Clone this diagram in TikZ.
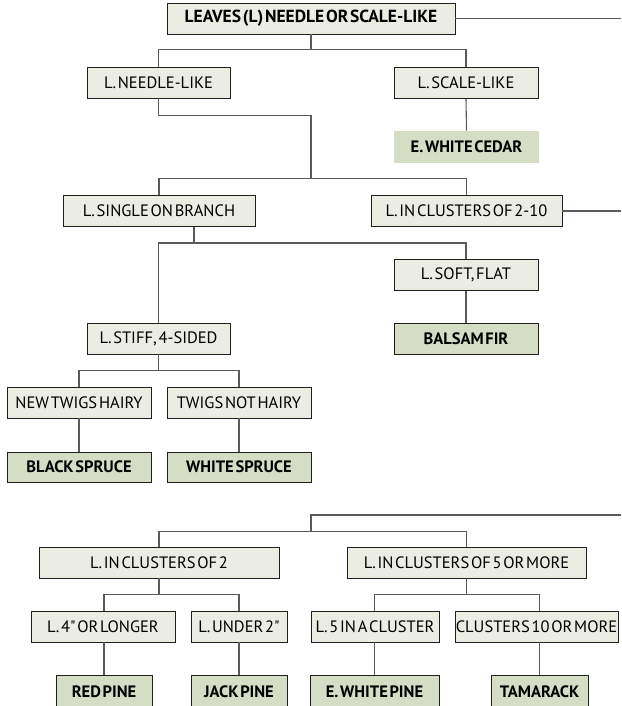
\documentclass[tikz,border=0pt]{standalone}
\usepackage{fontspec}
\setmainfont[WordSpace=0.4]{PT Sans}
\definecolor{lightbox}{HTML}{EBEDE3}
\definecolor{greenbox}{HTML}{D5DEC4}
\definecolor{connc}{HTML}{5A5A5A}
\definecolor{boxline}{HTML}{1E1E1E}
\begin{document}
\begin{tikzpicture}[x=1pt,y=-1pt,
  box/.style={draw=boxline, line width=0.9pt, fill=lightbox, minimum height=31pt, inner sep=0pt, font=\fontsize{16.5}{16.5}\selectfont},
  leaf/.style={box, fill=greenbox, font=\fontsize{16.5}{16.5}\selectfont\bfseries},
  conn/.style={draw=connc, line width=1.1pt}]
\clip (0,0) rectangle (621,706);
\fill[white] (0,0) rectangle (621,706);
% right-edge continuation points
\coordinate (e1) at (621,18.5);
\coordinate (e2) at (621,211);
\coordinate (e3) at (621,515);
\coordinate (j3) at (311,515);
% nodes
\node[box, font=\fontsize{17.5}{17.5}\selectfont\bfseries, minimum width=288pt] (top) at (311,18.5) {LEAVES (L) NEEDLE OR SCALE-LIKE};
\node[box, minimum width=143pt] (needle) at (158.5,82.5) {L. NEEDLE-LIKE};
\node[box, minimum width=144pt] (scale) at (466,83) {L. SCALE-LIKE};
\node[leaf, draw=none, minimum width=145pt, minimum height=32pt] (cedar) at (466.5,147) {E. WHITE CEDAR};
\node[box, minimum width=192pt] (single) at (159,211) {L. SINGLE ON BRANCH};
\node[box, minimum width=191pt] (c210) at (466.5,211) {L. IN CLUSTERS OF 2-10};
\node[box, minimum width=144pt] (soft) at (466,275) {L. SOFT, FLAT};
\node[box, minimum width=143pt] (stiff) at (158.5,338.5) {L. STIFF, 4-SIDED};
\node[leaf, minimum width=144pt] (balsam) at (466,338.5) {BALSAM FIR};
\node[box, minimum width=144pt] (hairy) at (79,402.5) {NEW TWIGS HAIRY};
\node[box, minimum width=144pt] (nothairy) at (239,402.5) {TWIGS NOT HAIRY};
\node[leaf, minimum width=144pt, minimum height=30pt] (black) at (79,467) {BLACK SPRUCE};
\node[leaf, minimum width=144pt, minimum height=30pt] (white) at (239,467) {WHITE SPRUCE};
\node[box, minimum width=240pt] (c2) at (159,562.5) {L. IN CLUSTERS OF 2};
\node[box, minimum width=239pt] (c5) at (466.5,562.5) {L. IN CLUSTERS OF 5 OR MORE};
\node[box, minimum width=144pt] (l4) at (103,626.5) {L. 4\textquotedbl{} OR LONGER};
\node[box, minimum width=96pt] (u2) at (239,626.5) {L. UNDER 2\textquotedbl};
\node[box, minimum width=128pt] (five) at (375,626.5) {L. 5 IN A CLUSTER};
\node[box, minimum width=163pt] (ten) at (536.5,626.5) {CLUSTERS 10 OR MORE};
\node[leaf, minimum width=96pt, minimum height=32pt, anchor=north] (red) at (104,675) {RED PINE};
\node[leaf, minimum width=96pt, minimum height=32pt, anchor=north] (jack) at (239,675) {JACK PINE};
\node[leaf, minimum width=129pt, minimum height=32pt, anchor=north] (ewp) at (374.5,675) {E. WHITE PINE};
\node[leaf, minimum width=97pt, minimum height=32pt, anchor=north] (tam) at (539.5,675) {TAMARACK};
% connectors
\draw[conn] (top.east) -- (e1);
\draw[conn] (top.south) -- ++(0,16);
\draw[conn] (needle.north) -- ++(0,-17) -| (scale.north);
\draw[conn] (scale.south) -- (cedar.north);
\draw[conn] (needle.south) -- ++(0,17) -| (311,178);
\draw[conn] (single.north) -- ++(0,-17) -| (c210.north);
\draw[conn] (c210.east) -- (e2);
\draw[conn] ([xshift=35pt]single.south) -- ++(0,16);
\draw[conn] (stiff.north) -- (stiff.north |- 0,243) -| (soft.north);
\draw[conn] (soft.south) -- (balsam.north);
\draw[conn] (stiff.south) -- ++(0,17);
\draw[conn] (hairy.north) -- ++(0,-16) -| (nothairy.north);
\draw[conn] (hairy.south) -- (black.north);
\draw[conn] (nothairy.south) -- (white.north);
\draw[conn] (e3) -- (j3) -- ++(0,17);
\draw[conn] (c2.north) -- ++(0,-15) -| (c5.north);
\draw[conn] (c2.south) -- ++(0,17);
\draw[conn] (red.north |- l4.north) -- ++(0,-16) -| (u2.north);
\draw[conn] (red.north |- l4.south) -- (red.north);
\draw[conn] (u2.south) -- (jack.north);
\draw[conn] (c5.south) -- ++(0,17);
\draw[conn] (ewp.north |- five.north) -- ++(0,-16) -| (tam.north |- ten.north);
\draw[conn] (ewp.north |- five.south) -- (ewp.north);
\draw[conn] (tam.north |- ten.south) -- (tam.north);
\end{tikzpicture}
\end{document}
